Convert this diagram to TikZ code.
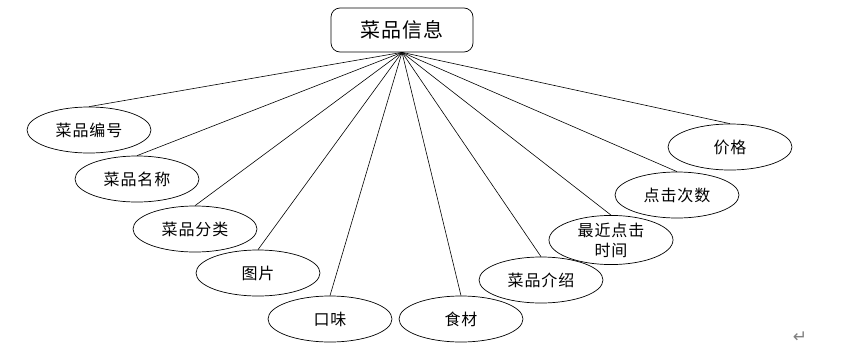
\documentclass[tikz,border=0pt]{standalone}
\usepackage{fontspec}
\newfontfamily\cjk[LetterSpace=6]{Noto Sans CJK SC}
\newfontfamily\dvs{DejaVu Sans}
\usetikzlibrary{shapes.geometric}
\begin{document}
\begin{tikzpicture}[x=1pt,y=-1pt,
  attr/.style={draw,ellipse,line width=0.7pt,minimum width=124pt,minimum height=46pt,inner sep=0pt,font=\cjk\fontsize{16}{20}\selectfont,align=center},
  ent/.style={draw,rounded corners=9pt,line width=0.7pt,minimum width=142pt,minimum height=44pt,inner sep=0pt,font=\cjk\fontsize{20}{22}\selectfont},
  link/.style={line width=0.6pt}]
\useasboundingbox (0,0) rectangle (849,359);
\node[ent] (root) at (402,30) {菜品信息};
\node[attr] (a1) at (89,130) {菜品编号};
\node[attr] (a2) at (137,179) {菜品名称};
\node[attr] (a3) at (195,229) {菜品分类};
\node[attr] (a4) at (258,273) {图片};
\node[attr] (a5) at (330,319) {口味};
\node[attr] (a6) at (461,319) {食材};
\node[attr] (a7) at (541,280) {菜品介绍};
\node[attr] (a8) at (611,240) {最近点击\\时间};
\node[attr] (a9) at (677,195) {点击次数};
\node[attr] (a10) at (730,147) {价格};
\foreach \n in {a1,a2,a3,a4,a5,a6,a7,a8,a9,a10}
  \draw[link] (root.south) -- (\n.north);
\node[font=\dvs\fontsize{17}{19}\selectfont,text=gray] (ret) at (800,337) {↵};
\end{tikzpicture}
\end{document}
